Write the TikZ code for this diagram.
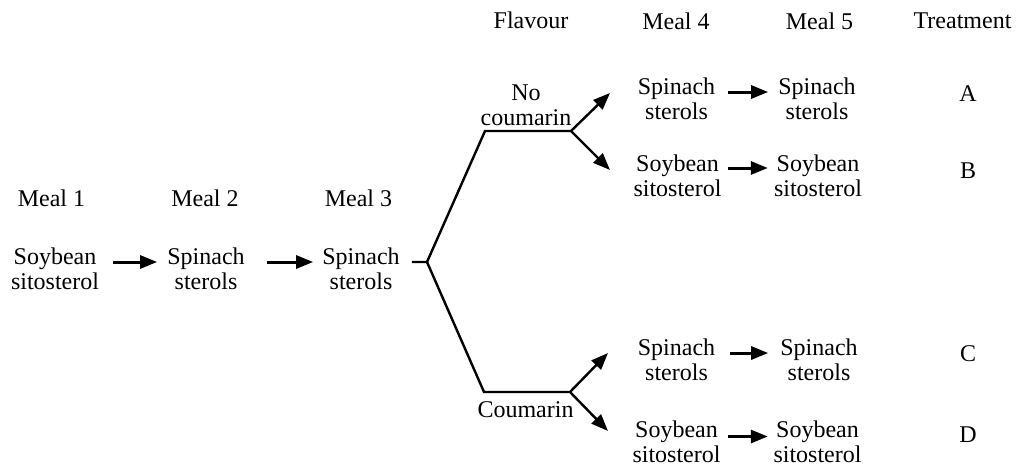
\documentclass[tikz,border=0pt]{standalone}
\usepackage{fontspec}
\setmainfont{Liberation Serif}
\usetikzlibrary{arrows.meta}
\begin{document}
\begin{tikzpicture}[x=1pt,y=-1pt,
  every node/.style={font=\fontsize{24}{25}\selectfont, align=center, inner sep=0pt},
  arr/.style={line width=3pt, -{Triangle[length=17pt,width=13pt]}},
  barr/.style={line width=2.4pt, -{Triangle[length=17pt,width=13pt]}},
  br/.style={line width=2.4pt, line join=miter}]
\useasboundingbox (0,0) rectangle (1028,466);
% headers
\node (h1) at (51.5,198) {Meal 1};
\node (h2) at (205,198) {Meal 2};
\node (h3) at (358.5,198) {Meal 3};
\node (hf) at (531,20) {Flavour};
\node (h4) at (676,21) {Meal 4};
\node (h5) at (819.5,21) {Meal 5};
\node (ht) at (962.5,21) {Treatment};
% meals 1-3
\node (m1) at (55,269) {Soybean\\sitosterol};
\node (m2) at (206,269) {Spinach\\sterols};
\node (m3) at (361,269) {Spinach\\sterols};
\draw[arr] ([xshift=14pt,yshift=7pt]m1.east) -- ([xshift=-10pt,yshift=7pt]m2.west);
\draw[arr] ([xshift=22pt,yshift=7pt]m2.east) -- ([xshift=-9pt,yshift=7pt]m3.west);
% branch
\coordinate (b0) at (427,262);
\coordinate (bu) at (485,131);
\coordinate (bur) at (571,131);
\coordinate (bl) at (484,392);
\coordinate (blr) at (570,392);
\draw[br] ([xshift=12pt,yshift=7pt]m3.east) -- (b0) -- (bu) -- (bur);
\draw[br] (b0) -- (bl) -- (blr);
\node (nc) at (526,105.5) {No\\coumarin};
\node (cc) at (525.5,409.5) {Coumarin};
% meal 4 / 5
\node (a4) at (676.5,99) {Spinach\\sterols};
\node (b4) at (677.5,176) {Soybean\\sitosterol};
\node (c4) at (676.5,360) {Spinach\\sterols};
\node (d4) at (676.5,442) {Soybean\\sitosterol};
\node (a5) at (817,99) {Spinach\\sterols};
\node (b5) at (818,176) {Soybean\\sitosterol};
\node (c5) at (819,360) {Spinach\\sterols};
\node (d5) at (817.5,442) {Soybean\\sitosterol};
\coordinate (ta) at (610,93);
\coordinate (tb) at (610,170);
\coordinate (tc) at (608,353);
\coordinate (td) at (608,431);
\draw[barr] (bur) -- (ta);
\draw[barr] (bur) -- (tb);
\draw[barr] (blr) -- (tc);
\draw[barr] (blr) -- (td);
\draw[arr] ([xshift=13pt,yshift=7pt]a4.east) -- ([xshift=-10pt,yshift=7pt]a5.west);
\draw[arr] ([xshift=6.5pt,yshift=8pt]b4.east) -- ([xshift=-6pt,yshift=8pt]b5.west);
\draw[arr] ([xshift=15pt,yshift=7pt]c4.east) -- ([xshift=-12pt,yshift=7pt]c5.west);
\draw[arr] ([xshift=7.5pt,yshift=5.5pt]d4.east) -- ([xshift=-5.5pt,yshift=5.5pt]d5.west);
% treatments
\node (tA) at (968,94) {A};
\node (tB) at (968,171) {B};
\node (tC) at (968,354) {C};
\node (tD) at (968,435) {D};
\end{tikzpicture}
\end{document}
